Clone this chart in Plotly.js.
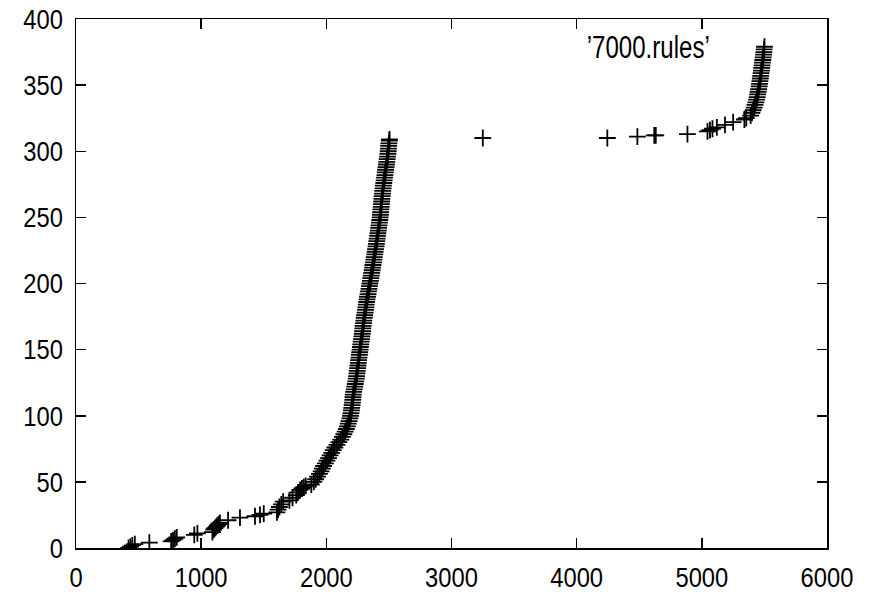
<!DOCTYPE html>
<html>
<head>
<meta charset="utf-8">
<script src="https://cdn.plot.ly/plotly-3.0.1.min.js"></script>
<style>html,body{margin:0;padding:0;background:#fff;}</style>
</head>
<body>
<div id="chart" style="width:874px;height:595px;"></div>
<script>
// Series '7000.rules' : x = value, y = count
const xVals = [
  420, 435, 450, 470, 586, 760, 775, 790, 805, 945, 970,
  1090, 1100, 1110, 1120, 1130, 1140, 1150, 1215, 1310, 1430, 1470, 1500,
  1605, 1615, 1625, 1640, 1655, 1705, 1730, 1760, 1775, 1790, 1805, 1820, 1835,
  1880, 1900, 1915, 1930, 1945, 1958, 1968, 1978, 1992, 2005, 2018, 2030, 2043, 2055,
  2068, 2085, 2100, 2115, 2128, 2140, 2150, 2160, 2168, 2175, 2182, 2188, 2193,
  2197, 2200, 2203, 2206, 2209, 2211, 2213, 2215, 2219, 2223, 2227, 2231, 2235,
  2239, 2242, 2245, 2247, 2250, 2253, 2256, 2258, 2261, 2264, 2267, 2270, 2272,
  2275, 2278, 2281, 2284, 2287, 2290, 2292, 2294, 2297, 2300, 2303, 2306, 2310,
  2313, 2316, 2319, 2322, 2325, 2329, 2333, 2337, 2341, 2344, 2348, 2352, 2355,
  2359, 2362, 2366, 2370, 2373, 2377, 2380, 2383, 2387, 2390, 2393, 2397, 2400,
  2403, 2406, 2409, 2412, 2415, 2418, 2421, 2424, 2427, 2430, 2432, 2434, 2436,
  2438, 2440, 2442, 2444, 2446, 2449, 2451, 2454, 2456, 2459, 2462, 2465, 2468,
  2471, 2474, 2477, 2480, 2483, 2486, 2489, 2492, 2494, 2496, 2498, 2500, 2503, 2505,
  3250, 4245, 4485, 4620, 4632, 4885,
  5045, 5065, 5085, 5120, 5185, 5250, 5340, 5355, 5390, 5400, 5410, 5418, 5425,
  5432, 5438, 5442, 5446, 5450, 5454, 5458, 5461, 5464, 5467, 5470, 5473, 5476,
  5478, 5481, 5484, 5487, 5490, 5493, 5496, 5498, 5500
];
const yVals = [
  0, 1, 2, 3, 4, 5, 6, 7, 8, 10, 11,
  12, 14, 15, 16, 17, 18, 19, 21, 23, 24, 25, 26,
  27, 29, 31, 33, 35, 36, 38, 40, 42, 44, 45, 46, 47,
  48, 50, 52, 54, 56, 58, 60, 62, 64, 66, 68, 70, 72, 74,
  76, 78, 80, 82, 84, 86, 88, 90, 92, 94, 96, 98, 100,
  102, 104, 106, 108, 110, 112, 114, 116, 118, 120, 122, 124, 126,
  128, 130, 132, 134, 136, 138, 140, 142, 144, 146, 148, 150, 152,
  154, 156, 158, 160, 162, 164, 166, 168, 170, 172, 174, 176, 178,
  180, 182, 184, 186, 188, 190, 192, 194, 196, 198, 200, 202, 204,
  206, 208, 210, 212, 214, 216, 218, 220, 222, 224, 226, 228, 230,
  232, 234, 236, 238, 240, 242, 244, 246, 248, 250, 252, 254, 256,
  258, 260, 262, 264, 266, 268, 270, 272, 274, 276, 278, 280, 282,
  284, 286, 288, 290, 292, 294, 296, 298, 300, 302, 304, 306, 308, 309,
  310, 310, 311, 312, 312, 313,
  315, 316, 317, 318, 320, 322, 324, 325, 327, 329, 331, 333, 335,
  337, 339, 341, 343, 345, 347, 349, 351, 353, 355, 357, 359, 361,
  363, 365, 367, 369, 371, 373, 375, 377, 379
];
const seriesName = "\u20197000.rules\u2019";
const xTicks = [0, 1000, 2000, 3000, 4000, 5000, 6000];
const yTicks = [0, 50, 100, 150, 200, 250, 300, 350, 400];

const n = Math.min(xVals.length, yVals.length);
const trace = {
  x: xVals.slice(0, n),
  y: yVals.slice(0, n),
  type: 'scatter',
  mode: 'markers',
  name: seriesName,
  marker: {symbol: 'cross-thin', size: 12, color: '#000', line: {color: '#000', width: 1.8}},
  hoverinfo: 'none'
};

const fontFam = "'Liberation Sans', Arial, Helvetica, sans-serif";
const axisCommon = {
  showgrid: false,
  zeroline: false,
  showline: true,
  linecolor: '#000',
  linewidth: 1.5,
  mirror: 'ticks',
  ticks: 'inside',
  ticklen: 10,
  tickwidth: 1.5,
  tickcolor: '#000',
  tickfont: {family: fontFam, size: 28, color: '#000'},
  tickmode: 'array'
};

const layout = {
  width: 874,
  height: 595,
  margin: {l: 76, r: 47, t: 19, b: 47, pad: 0},
  paper_bgcolor: '#fff',
  plot_bgcolor: '#fff',
  showlegend: false,
  xaxis: Object.assign({}, axisCommon, {range: [0, 6000], tickvals: xTicks, ticktext: xTicks.map(String), ticklabelstandoff: 4}),
  yaxis: Object.assign({}, axisCommon, {range: [0, 400], tickvals: yTicks, ticktext: yTicks.map(String), ticklabelstandoff: 6}),
  annotations: [{
    xref: 'paper', yref: 'paper', x: 0.762, y: 0.947,
    xanchor: 'center', yanchor: 'middle', showarrow: false,
    text: seriesName,
    font: {family: fontFam, size: 31, color: '#000'}
  }]
};

Plotly.newPlot('chart', [trace], layout, {staticPlot: true, displayModeBar: false}).then(function (gd) {
  // narrow the glyphs like the reference's condensed lettering
  gd.querySelectorAll('.xtick text, .ytick text').forEach(function (t) {
    t.setAttribute('textLength', String(t.textContent.length * 13.2));
    t.setAttribute('lengthAdjust', 'spacingAndGlyphs');
  });
  gd.querySelectorAll('.annotation-text').forEach(function (t) {
    t.setAttribute('textLength', '123');
    t.setAttribute('lengthAdjust', 'spacingAndGlyphs');
  });
});
</script>
</body>
</html>
